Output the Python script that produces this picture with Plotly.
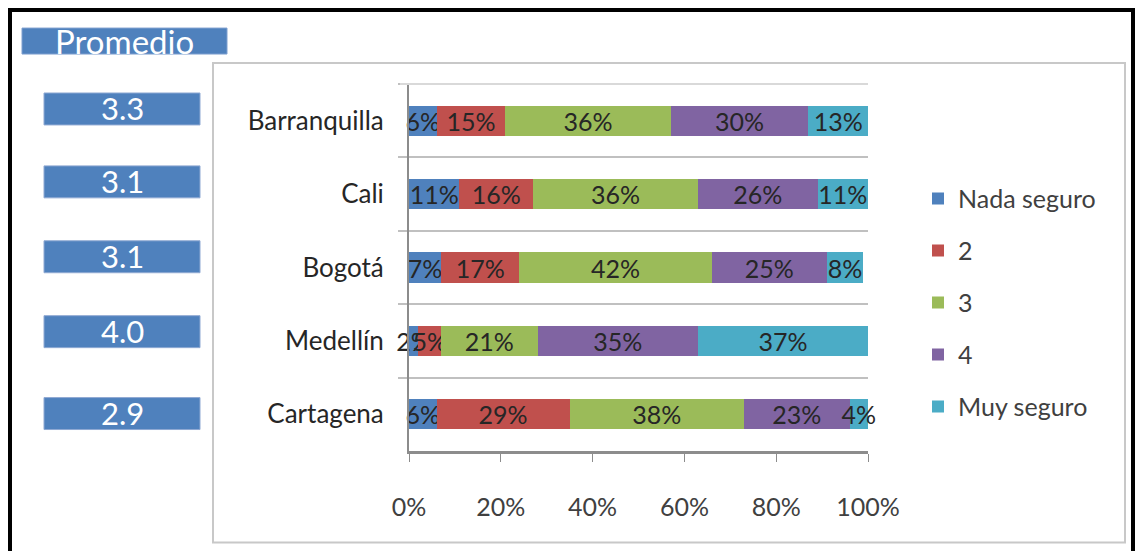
import plotly.graph_objects as go

# ---- data ----
cities = ["Barranquilla", "Cali", "Bogotá", "Medellín", "Cartagena"]
series_names = ["Nada seguro", "2", "3", "4", "Muy seguro"]
nada_seguro = [6, 11, 7, 2, 6]
nivel_2 = [15, 16, 17, 5, 29]
nivel_3 = [36, 36, 42, 21, 38]
nivel_4 = [30, 26, 25, 35, 23]
muy_seguro = [13, 11, 8, 37, 4]
promedio = [3.3, 3.1, 3.1, 4.0, 2.9]
x_ticks = [0, 0.2, 0.4, 0.6, 0.8, 1.0]
x_tick_labels = ["0%", "20%", "40%", "60%", "80%", "100%"]

series_values = [nada_seguro, nivel_2, nivel_3, nivel_4, muy_seguro]
colors = ["#4F81BD", "#C0504D", "#9BBB59", "#8064A2", "#4BACC6"]

FONT = "Lato, Open Sans, sans-serif"

W, H = 1135, 551
L, R, T, B = 409, 868, 84, 451.5


def px(x):
    return (x - L) / (R - L)


def py(y):
    return (B - y) / (B - T)


fig = go.Figure()
for name, vals, col in zip(series_names, series_values, colors):
    fig.add_trace(go.Bar(
        y=cities,
        x=[v / 100 for v in vals],
        name=name,
        orientation="h",
        marker=dict(color=col, line=dict(width=0)),
        text=[f"{v}%" for v in vals],
        textposition="inside",
        insidetextanchor="middle",
        constraintext="none",
        textangle=0,
        textfont=dict(family=FONT, size=25, color="#262626"),
        cliponaxis=False,
        legendgroup=name,
        hoverinfo="skip",
    ))

shapes = []
annotations = []

# outer black frame
shapes.append(dict(type="rect", xref="paper", yref="paper",
                   x0=px(10), x1=px(1133), y0=py(10), y1=py(560),
                   line=dict(color="black", width=4), fillcolor="rgba(0,0,0,0)", layer="below"))
# inner chart frame
shapes.append(dict(type="rect", xref="paper", yref="paper",
                   x0=px(213), x1=px(1125), y0=py(63), y1=py(543),
                   line=dict(color="#c8c8c8", width=2), fillcolor="rgba(0,0,0,0)", layer="below"))
# top category boundary line
shapes.append(dict(type="line", xref="paper", yref="paper",
                   x0=px(400), x1=1, y0=1, y1=1,
                   line=dict(color="#d9d9d9", width=2)))

# Promedio header box
shapes.append(dict(type="rect", xref="paper", yref="paper",
                   x0=px(22), x1=px(227), y0=py(28), y1=py(54),
                   line=dict(color="#7f9fcf", width=1), fillcolor="#4F81BD"))
annotations.append(dict(xref="paper", yref="paper", x=px(124), y=py(41),
                        xanchor="center", yanchor="middle",
                        text="Promedio", showarrow=False,
                        font=dict(family=FONT, size=33, color="white")))

box_centers = [109, 182, 257, 332, 414]
for val, cy in zip(promedio, box_centers):
    shapes.append(dict(type="rect", xref="paper", yref="paper",
                       x0=px(44), x1=px(200), y0=py(cy - 16), y1=py(cy + 16),
                       line=dict(color="#8fa9d3", width=1), fillcolor="#4F81BD"))
    annotations.append(dict(xref="paper", yref="paper", x=px(122), y=py(cy - 1),
                            xanchor="center", yanchor="middle",
                            text=f"{val:.1f}", showarrow=False,
                            font=dict(family=FONT, size=31, color="white")))

fig.update_layout(
    width=W, height=H,
    margin=dict(l=L, r=W - R, t=T, b=H - B, pad=0),
    paper_bgcolor="white", plot_bgcolor="white",
    barmode="stack", bargap=0.59,
    showlegend=True,
    legend=dict(x=px(918), y=py(176), xanchor="left", yanchor="top",
                traceorder="grouped", tracegroupgap=16.5,
                font=dict(family=FONT, size=25, color="#404040"),
                itemwidth=30, bgcolor="rgba(0,0,0,0)"),
    xaxis=dict(range=[0, 1], tickvals=x_ticks, ticktext=x_tick_labels,
               showgrid=False, zeroline=False,
               showline=True, linecolor="#8c8c8c", linewidth=3,
               ticks="outside", ticklen=8, tickcolor="#8c8c8c", tickwidth=1,
               tickfont=dict(family=FONT, size=25, color="#404040"),
               ticklabelstandoff=24),
    yaxis=dict(categoryorder="array", categoryarray=cities, autorange="reversed",
               tickson="boundaries", showgrid=True, gridcolor="#c0c0c0", gridwidth=2,
               showline=True, linecolor="#8c8c8c", linewidth=2,
               ticks="outside", ticklen=9, tickcolor="#c0c0c0", tickwidth=2,
               tickfont=dict(family=FONT, size=26, color="#262626"),
               ticklabelstandoff=18,
               zeroline=False),
    shapes=shapes,
    annotations=annotations,
    font=dict(family=FONT),
)

fig.write_html("out.html", config={"displayModeBar": False},
               post_script="document.body.style.margin='0';document.body.style.padding='0';")
